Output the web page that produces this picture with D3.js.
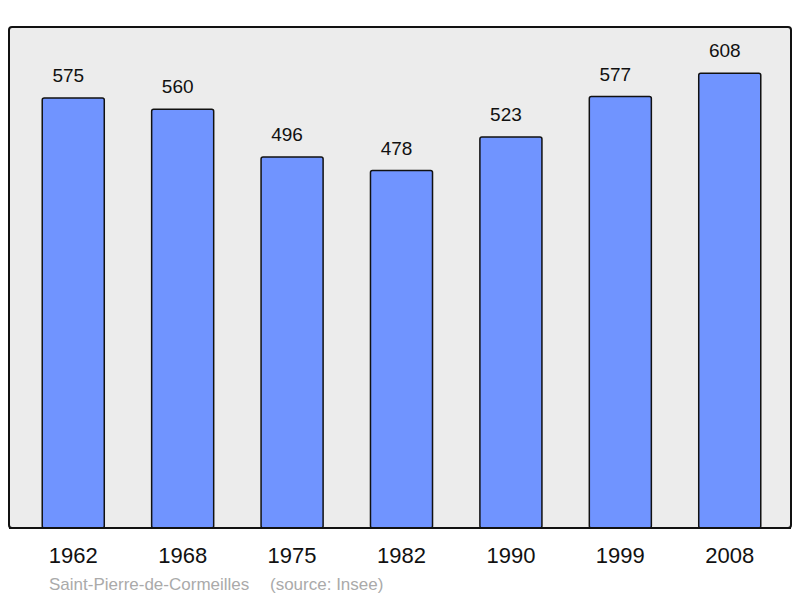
<!DOCTYPE html>
<html>
<head>
<meta charset="utf-8">
<script src="https://cdn.jsdelivr.net/npm/d3@7"></script>
<style>
  body { margin: 0; background: #fff; }
  text { font-family: "Liberation Sans", Arial, sans-serif; }
</style>
</head>
<body>
<script>
// population data
var years = ['1962', '1968', '1975', '1982', '1990', '1999', '2008'];
var population = [575, 560, 496, 478, 523, 577, 608];
var commune = 'Saint-Pierre-de-Cormeilles';
var source = '(source: Insee)';

var svg = d3.select('body').append('svg').attr('width', 800).attr('height', 598);

// panel edges
var panelLeft = 9, panelRight = 791, panelTop = 27, panelBottom = 528;

svg.append('rect')
  .attr('x', panelLeft).attr('y', panelTop)
  .attr('width', panelRight - panelLeft).attr('height', panelBottom - panelTop)
  .attr('rx', 3).attr('ry', 3)
  .style('fill', '#ececec').style('stroke', '#111').style('stroke-width', 2);

var x = d3.scaleBand().domain(years).range([panelLeft + 1.5, panelRight + 1.5]).paddingInner(0.433).paddingOuter(0.29);
var y = d3.scaleLinear().domain([0, 670]).range([panelBottom, panelTop]);

var bars = svg.selectAll('.bar').data(years).enter().append('g').attr('class', 'bar');

bars.append('rect')
  .attr('x', function(d) { return x(d); })
  .attr('y', function(d, i) { return y(population[i]); })
  .attr('width', x.bandwidth())
  .attr('height', function(d, i) { return panelBottom - y(population[i]); })
  .attr('rx', 2).attr('ry', 2)
  .style('fill', '#7094ff').style('stroke', '#111').style('stroke-width', 1.5);

// value labels above the bars (sit a bit left of centre in the original)
bars.append('text')
  .attr('x', function(d) { return x(d) + x.bandwidth() / 2 - 5; })
  .attr('y', function(d, i) { return y(population[i]) - 16; })
  .attr('text-anchor', 'middle')
  .style('font-size', '19px').style('fill', '#111')
  .text(function(d, i) { return population[i]; });

// year labels
bars.append('text')
  .attr('x', function(d) { return x(d) + x.bandwidth() / 2; })
  .attr('y', 563)
  .attr('text-anchor', 'middle')
  .style('font-size', '22px').style('fill', '#111')
  .text(function(d) { return d; });

// redraw the bottom edge over the bars
svg.append('line')
  .attr('x1', panelLeft).attr('x2', panelRight).attr('y1', panelBottom).attr('y2', panelBottom)
  .style('stroke', '#111').style('stroke-width', 2);

svg.append('text')
  .attr('x', 49).attr('y', 590)
  .style('font-size', '17px').style('fill', '#aaa')
  .text(commune);

svg.append('text')
  .attr('x', 270).attr('y', 590)
  .style('font-size', '17px').style('fill', '#aaa')
  .text(source);
</script>
</body>
</html>
